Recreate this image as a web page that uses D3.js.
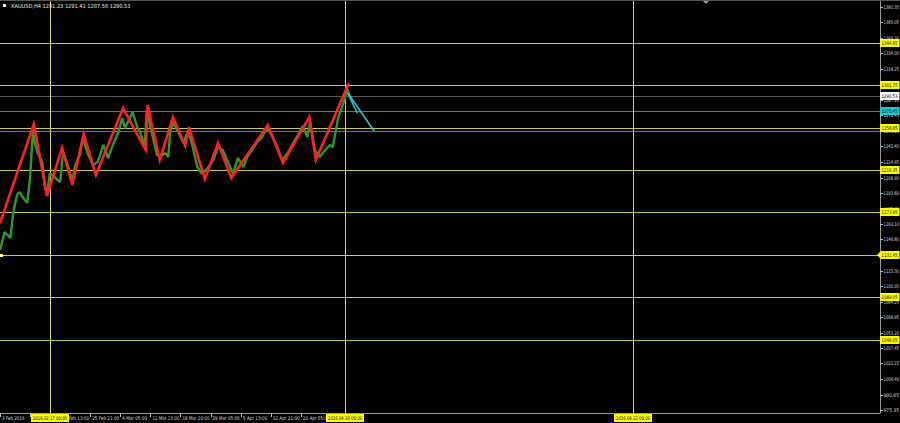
<!DOCTYPE html>
<html><head><meta charset="utf-8">
<script src="https://cdn.jsdelivr.net/npm/d3@7"></script>
<style>html,body{margin:0;padding:0;background:#000;}svg{display:block;}</style>
</head><body>
<svg id="c" width="900" height="423"></svg>
<script>
// ---- data ----
const symbolTitle = "XAUUSD,H4";
const ohlcLast = ["1291.23", "1291.41", "1287.56", "1290.53"];

// close prices by H4 bar index
const priceBars = [0,5,11,14,18,21,24,29,32,35,37,40,45,48,51,53,59,64,67,71,77,80,85,88,94,99,104,110,115,120,126,130,133,138,141,146,149,154,156,162,167,170,176,179,181,184,189,195,200,204,210,215,221,227,232,237,243,248,253,259,263,268,273,279,284,289,295,300,306,312,317,322,327,330,335,340,346,351,354,356,360,364,367,369,372];
const priceClose = [1136.1,1154.2,1148.2,1173.3,1191.4,1194.4,1189.4,1183.4,1208.5,1256.5,1243.7,1233.6,1224.6,1196.5,1198.5,1213.5,1208.5,1204.5,1234.6,1224.6,1206.5,1221.6,1231.6,1248.7,1231.6,1221.6,1224.6,1241.7,1228.6,1241.7,1254.7,1268.8,1258.8,1268.8,1274.8,1259.8,1254.7,1240.7,1276.8,1251.7,1231.6,1229.6,1233.6,1229.6,1254.7,1264.8,1255.7,1243.7,1255.7,1243.7,1219.6,1212.5,1218.6,1226.6,1239.7,1236.6,1223.6,1212.6,1228.6,1219.6,1229.6,1236.6,1243.7,1249.7,1258.7,1251.7,1239.7,1226.6,1233.6,1243.7,1251.7,1260.7,1249.7,1264.7,1236.6,1229.6,1236.6,1241.7,1239.7,1249.7,1269.8,1279.9,1288.9,1298.9,1290.5];

// zigzag pivots
const zigBars = [0,36,50,66,77,89,102,131,155,157,170,184,197,201,218,232,246,285,301,329,336,371];
const zigPrices = [1163.3,1262.8,1190.4,1238.7,1201.5,1252.7,1211.5,1278.8,1236.6,1281.9,1226.6,1269.8,1240.7,1259.8,1207.5,1243.7,1208.5,1261.8,1223.6,1269.8,1226.6,1304.0];

// projection lines (cyan)
const projStart = {bar: 370, price: 1293.9};
const projEndBars = [380, 398];
const projEndPrices = [1273.8, 1255.7];

// horizontal levels
const levelPrices = [1344.65, 1301.75, 1290.53, 1275.45, 1258.85, 1256.20, 1216.35, 1173.95, 1131.45, 1089.05, 1046.05];
const levelKinds  = ["yellow","yellow","bid","cyan","yellow","teal","yellow","yellow","yellowArrow","yellow","yellow"];

// vertical time lines
const vlineBars = [53, 367, 673];
const vlineLabels = ["2016.02.17 00:00", "2016.04.30 00:00", "2016.06.22 00:00"];

// time axis
const timeTickBars = [0,32,64,96,128,160,192,224,256,288,320];
const timeTickLabels = ["3 Feb 2016","10 Feb 21:00","18 Feb 13:00","25 Feb 21:00","4 Mar 05:00","11 Mar 13:00","18 Mar 20:00","29 Mar 05:00","5 Apr 13:00","12 Apr 21:00","20 Apr 05:00"];

// price axis
const priceTicks = [1380.35,1365.05,1349.30,1334.00,1318.25,1302.50,1287.20,1271.45,1256.15,1240.40,1224.65,1208.90,1193.60,1177.85,1162.10,1146.80,1131.05,1115.30,1100.00,1084.25,1068.95,1053.20,1037.45,1022.15,1006.40,990.65,975.35];

// ---- drawing ----
const svg = d3.select("#c");
const W = 900, H = 423, plotR = 880, plotB = 413;
svg.append("rect").attr("width", W).attr("height", H).attr("fill", "#000");

const x = d3.scaleLinear().domain([0, 936.17]).range([0, plotR]);
const y = d3.scaleLinear().domain([975.35, 1380.35]).range([410, 7]);
const font = "Liberation Sans Narrow, DejaVu Sans Condensed, Liberation Sans, sans-serif";
const fs = 5.2;

const colors = {yellow:"#c8c84a", bid:"#5a5a5a", cyan:"#2f8f98", teal:"#2f8f98", yellowArrow:"#c8c84a"};
const labelFill = {yellow:"#ffff00", bid:"#ffffff", cyan:"#20c8d0", yellowArrow:"#ffff00"};

// horizontal levels
svg.append("g").selectAll("line").data(levelPrices).join("line")
  .attr("x1", 0).attr("x2", plotR)
  .attr("y1", d => Math.round(y(d)) + 0.5).attr("y2", d => Math.round(y(d)) + 0.5)
  .attr("stroke", (d, i) => colors[levelKinds[i]]).attr("stroke-width", 1);

// vertical lines
svg.append("g").selectAll("line").data(vlineBars).join("line")
  .attr("x1", d => Math.round(x(d)) + 0.5).attr("x2", d => Math.round(x(d)) + 0.5)
  .attr("y1", 0).attr("y2", plotB)
  .attr("stroke", "#d6d67a").attr("stroke-width", 1);

// price series
const series = priceBars.map((b, i) => [b, priceClose[i]]);
svg.append("path").datum(series)
  .attr("d", d3.line().x(d => x(d[0])).y(d => y(d[1])))
  .attr("fill", "none").attr("stroke", "#2b9a2b").attr("stroke-width", 2.4)
  .attr("stroke-linejoin", "bevel");

// zigzag
const zz = zigBars.map((b, i) => [b, zigPrices[i]]);
svg.append("path").datum(zz)
  .attr("d", d3.line().x(d => x(d[0])).y(d => y(d[1])))
  .attr("fill", "none").attr("stroke", "#ff2020").attr("stroke-width", 2.6)
  .attr("stroke-linejoin", "miter");

// projection lines
svg.append("g").selectAll("line").data(projEndBars).join("line")
  .attr("x1", x(projStart.bar)).attr("y1", y(projStart.price))
  .attr("x2", d => x(d)).attr("y2", (d, i) => y(projEndPrices[i]))
  .attr("stroke", "#2ec8d4").attr("stroke-width", 1.6);

// small marker on left of 1131 level
svg.append("rect").attr("x", 0).attr("y", Math.round(y(1131.45)) - 1)
  .attr("width", 3).attr("height", 3).attr("fill", "#ffff60");

// axes frame
svg.append("line").attr("x1", plotR + 0.5).attr("x2", plotR + 0.5).attr("y1", 0).attr("y2", plotB)
  .attr("stroke", "#9a9a9a");
svg.append("line").attr("x1", 0).attr("x2", plotR + 0.5).attr("y1", plotB + 0.5).attr("y2", plotB + 0.5)
  .attr("stroke", "#9a9a9a");
svg.append("line").attr("x1", 0).attr("x2", W).attr("y1", 0.5).attr("y2", 0.5)
  .attr("stroke", "#555");
svg.append("path").attr("d", "M703,1 L709,1 L706,4 Z").attr("fill", "#9a9a9a");

// right axis ticks
const pa = svg.append("g");
pa.selectAll("line").data(priceTicks).join("line")
  .attr("x1", plotR).attr("x2", plotR + 3)
  .attr("y1", d => Math.round(y(d)) + 0.5).attr("y2", d => Math.round(y(d)) + 0.5)
  .attr("stroke", "#bbb");
pa.selectAll("text").data(priceTicks).join("text")
  .attr("x", plotR + 3.5).attr("y", d => y(d) + 2)
  .attr("fill", "#d8d8d8").attr("font-family", font).attr("font-size", fs)
  .attr("textLength", 15.5).attr("lengthAdjust", "spacingAndGlyphs")
  .text(d => d.toFixed(2));

// level labels
const labelled = levelPrices.map((p, i) => ({p, k: levelKinds[i]})).filter(d => labelFill[d.k]);
const lg = svg.append("g").selectAll("g").data(labelled).join("g")
  .attr("transform", d => `translate(${plotR},${Math.round(y(d.p))})`);
lg.append("path")
  .attr("d", d => d.k === "yellowArrow" ? "M-3,0 L1,-4 L19.5,-4 L19.5,4 L1,4 Z" : "M0,-4 L19.5,-4 L19.5,4 L0,4 Z")
  .attr("fill", d => labelFill[d.k]);
lg.append("text").attr("x", 1.5).attr("y", 2)
  .attr("fill", "#000").attr("font-family", font).attr("font-size", fs)
  .attr("textLength", 16).attr("lengthAdjust", "spacingAndGlyphs")
  .text(d => d.p.toFixed(2));

// time axis
const ta = svg.append("g");
ta.selectAll("line").data(timeTickBars).join("line")
  .attr("x1", d => Math.round(x(d)) + 0.5).attr("x2", d => Math.round(x(d)) + 0.5)
  .attr("y1", plotB).attr("y2", plotB + 4).attr("stroke", "#bbb");
ta.selectAll("text").data(timeTickBars).join("text")
  .attr("x", d => x(d) + 2).attr("y", 420)
  .attr("fill", "#d8d8d8").attr("font-family", font).attr("font-size", fs)
  .attr("textLength", (d, i) => timeTickLabels[i].length * 2.25).attr("lengthAdjust", "spacingAndGlyphs")
  .text((d, i) => timeTickLabels[i]);

// vertical line labels
const vl = svg.append("g").selectAll("g").data(vlineBars).join("g")
  .attr("transform", d => `translate(${Math.round(x(d))},0)`);
vl.append("rect").attr("x", -19).attr("y", 414).attr("width", 38).attr("height", 8).attr("fill", "#ffff00");
vl.append("text").attr("x", -17).attr("y", 420.2)
  .attr("fill", "#000").attr("font-family", font).attr("font-size", fs)
  .attr("textLength", 34).attr("lengthAdjust", "spacingAndGlyphs")
  .text((d, i) => vlineLabels[i]);

// title
svg.append("rect").attr("x", 3).attr("y", 4).attr("width", 3).attr("height", 3).attr("fill", "#eee");
svg.append("text").attr("x", 11).attr("y", 8).attr("fill", "#e8e8e8")
  .attr("font-family", font).attr("font-size", 5.6)
  .text(symbolTitle + "  " + ohlcLast.join(" "));
</script>
</body></html>
